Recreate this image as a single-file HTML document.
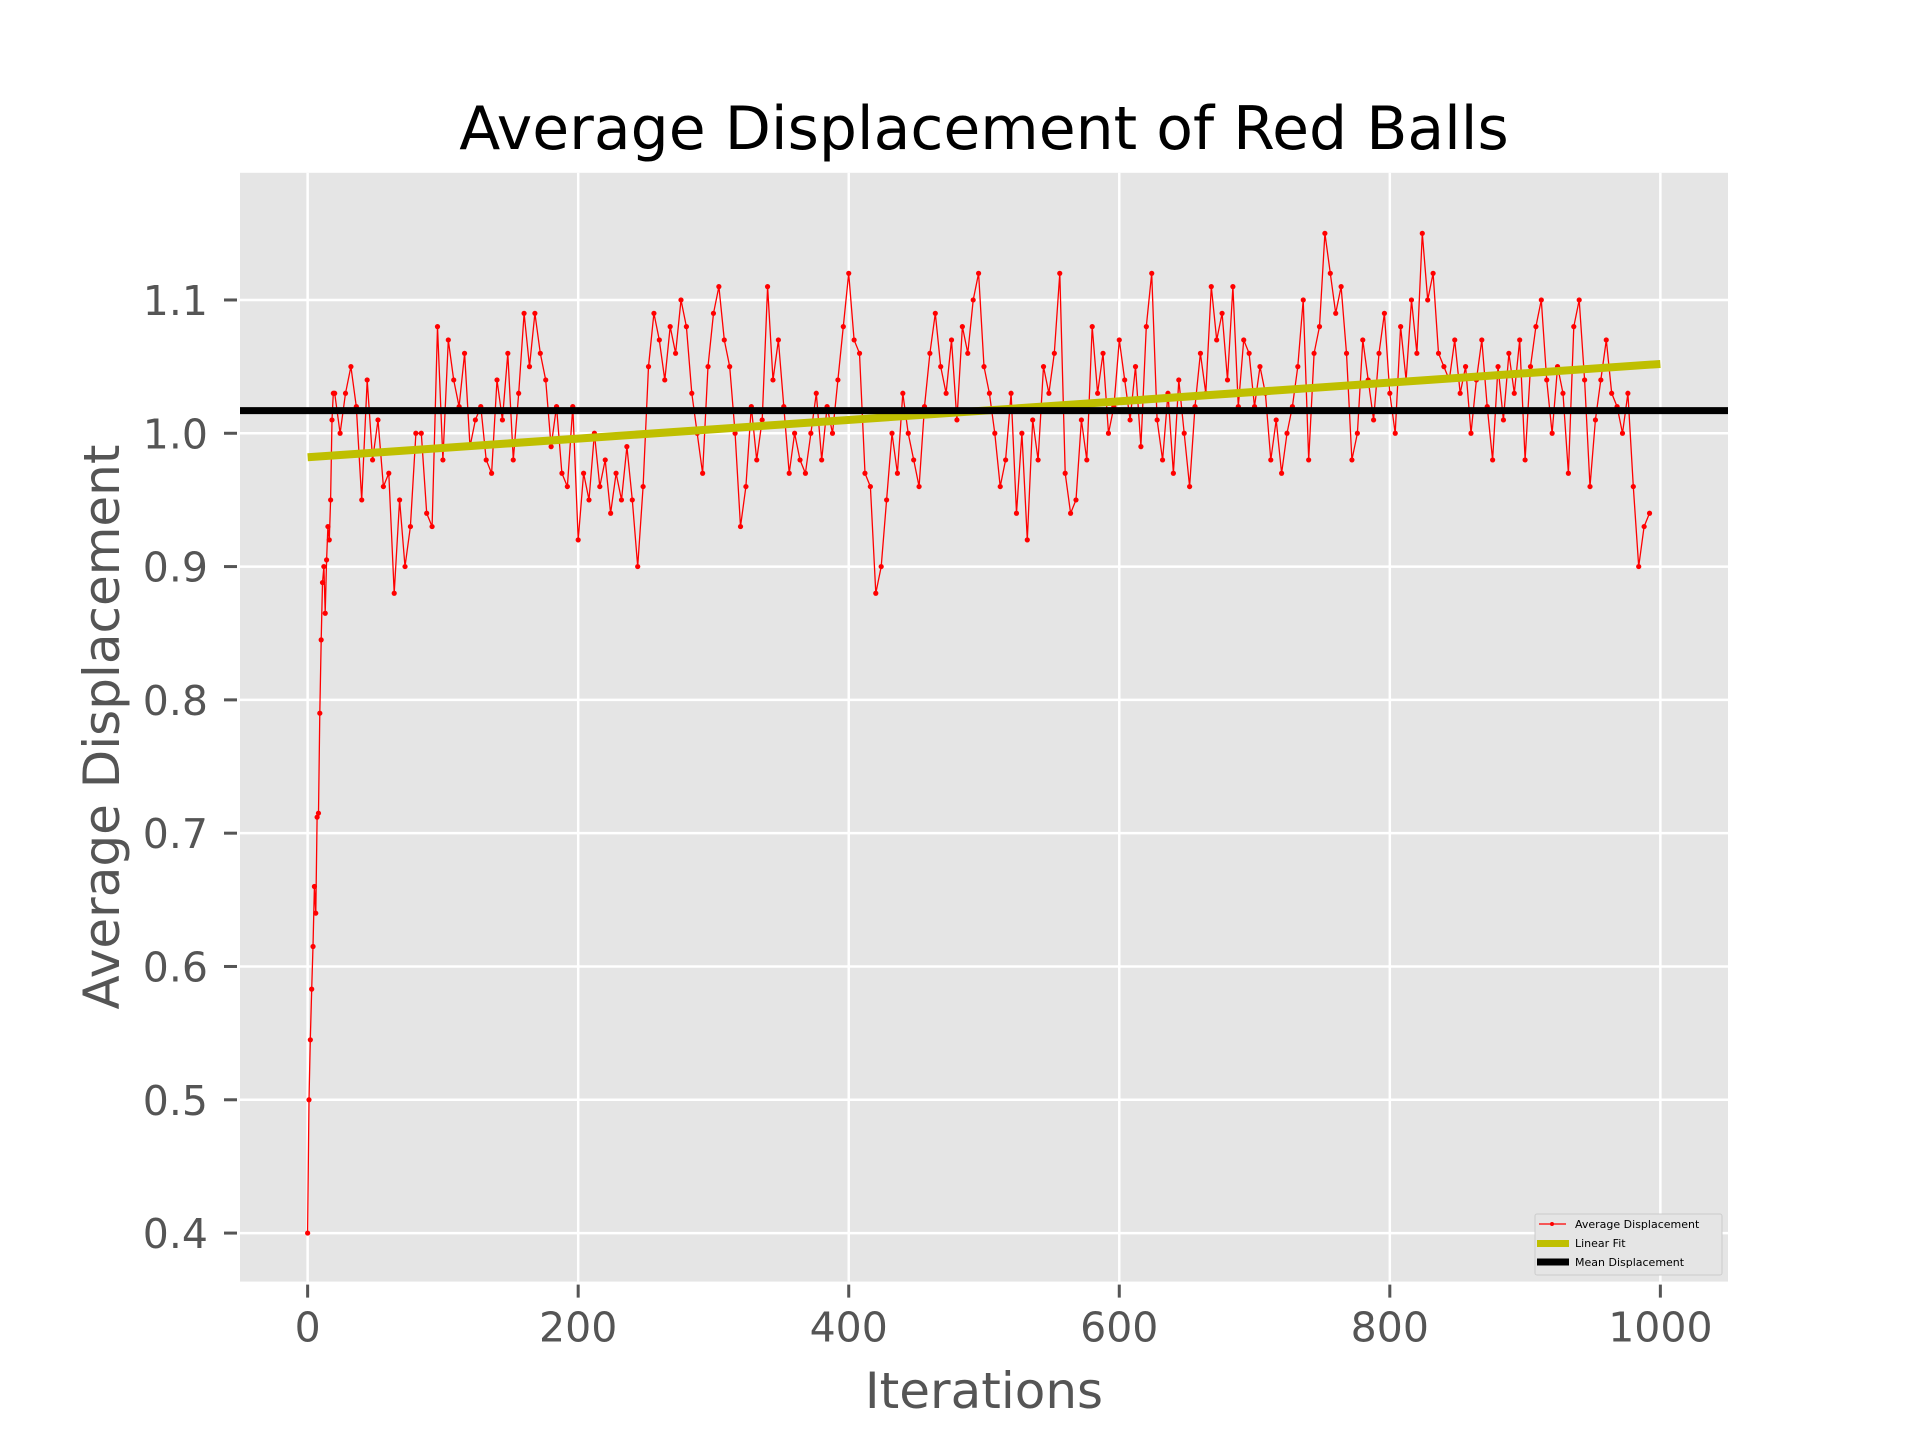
<!DOCTYPE html>
<html><head><meta charset="utf-8"><style>
html,body{margin:0;padding:0;background:#fff;}
svg{display:block;font-family:"DejaVu Sans","Liberation Sans",sans-serif;}
</style></head><body>
<svg id="chart" width="1920" height="1440" viewBox="0 0 1920 1440" xmlns="http://www.w3.org/2000/svg">
<rect x="240" y="172.8" width="1488" height="1108.8" fill="#E5E5E5"/>
<g id="grid"></g>
<g id="ticks"></g>
<g id="series"></g>
<text x="984" y="149" text-anchor="middle" font-size="60" fill="#000">Average Displacement of Red Balls</text>
<text x="984" y="1408" text-anchor="middle" font-size="50" fill="#555">Iterations</text>
<text transform="translate(119,727) rotate(-90)" text-anchor="middle" font-size="50" fill="#555">Average Displacement</text>
<g>
<rect x="1535" y="1214" width="187" height="61" rx="2" fill="#E5E5E5" stroke="#ccc" stroke-width="1"/>
<line x1="1539" y1="1224" x2="1566" y2="1224" stroke="red" stroke-width="1.2"/>
<circle cx="1552" cy="1224" r="2" fill="red"/>
<text x="1575" y="1228" font-size="11" fill="#000">Average Displacement</text>
<line x1="1537" y1="1243.5" x2="1569" y2="1243.5" stroke="#BFBF00" stroke-width="7"/>
<text x="1575" y="1247" font-size="11" fill="#000">Linear Fit</text>
<line x1="1537" y1="1262" x2="1569" y2="1262" stroke="#000" stroke-width="7"/>
<text x="1575" y="1266" font-size="11" fill="#000">Mean Displacement</text>
</g>
</svg>
<script>
const rampValues=[0.40,0.50,0.545,0.583,0.615,0.66,0.64,0.712,0.715,0.79,0.845,0.888,0.90,0.865,0.905,0.93,0.92,0.95,1.01,1.03];
const sampledValues=[
1.03,1.00,1.03,1.05,1.02,0.95,1.04,0.98,1.01,0.96,
0.97,0.88,0.95,0.90,0.93,1.00,1.00,0.94,0.93,1.08,
0.98,1.07,1.04,1.02,1.06,0.99,1.01,1.02,0.98,0.97,
1.04,1.01,1.06,0.98,1.03,1.09,1.05,1.09,1.06,1.04,
0.99,1.02,0.97,0.96,1.02,0.92,0.97,0.95,1.00,0.96,
0.98,0.94,0.97,0.95,0.99,0.95,0.90,0.96,1.05,1.09,
1.07,1.04,1.08,1.06,1.10,1.08,1.03,1.00,0.97,1.05,
1.09,1.11,1.07,1.05,1.00,0.93,0.96,1.02,0.98,1.01,
1.11,1.04,1.07,1.02,0.97,1.00,0.98,0.97,1.00,1.03,
0.98,1.02,1.00,1.04,1.08,1.12,1.07,1.06,0.97,0.96,
0.88,0.90,0.95,1.00,0.97,1.03,1.00,0.98,0.96,1.02,
1.06,1.09,1.05,1.03,1.07,1.01,1.08,1.06,1.10,1.12,
1.05,1.03,1.00,0.96,0.98,1.03,0.94,1.00,0.92,1.01,
0.98,1.05,1.03,1.06,1.12,0.97,0.94,0.95,1.01,0.98,
1.08,1.03,1.06,1.00,1.02,1.07,1.04,1.01,1.05,0.99,
1.08,1.12,1.01,0.98,1.03,0.97,1.04,1.00,0.96,1.02,
1.06,1.03,1.11,1.07,1.09,1.04,1.11,1.02,1.07,1.06,
1.02,1.05,1.03,0.98,1.01,0.97,1.00,1.02,1.05,1.10,
0.98,1.06,1.08,1.15,1.12,1.09,1.11,1.06,0.98,1.00,
1.07,1.04,1.01,1.06,1.09,1.03,1.00,1.08,1.04,1.10,
1.06,1.15,1.10,1.12,1.06,1.05,1.04,1.07,1.03,1.05,
1.00,1.04,1.07,1.02,0.98,1.05,1.01,1.06,1.03,1.07,
0.98,1.05,1.08,1.10,1.04,1.00,1.05,1.03,0.97,1.08,
1.10,1.04,0.96,1.01,1.04,1.07,1.03,1.02,1.00,1.03,
0.96,0.90,0.93,0.94];
const sampleStart=20, sampleStep=4;
const fitEnds=[0.982,1.052];
const meanValue=1.017;
const xTicks=[0,200,400,600,800,1000];
const yTicks=[0.4,0.5,0.6,0.7,0.8,0.9,1.0,1.1];
const yTickLabels=["0.4","0.5","0.6","0.7","0.8","0.9","1.0","1.1"];

const L=240,R=1728,T=172.8,B=1281.6;
const xMin=-50,xMax=1050,yMin=0.3636,yMax=1.1954;
const X=v=>L+(v-xMin)/(xMax-xMin)*(R-L);
const Y=v=>B-(v-yMin)/(yMax-yMin)*(B-T);
const NS="http://www.w3.org/2000/svg";
function mk(tag,attrs,parent){const e=document.createElementNS(NS,tag);for(const k in attrs)e.setAttribute(k,attrs[k]);parent.appendChild(e);return e;}
const grid=document.getElementById('grid'),ticks=document.getElementById('ticks'),series=document.getElementById('series');
xTicks.forEach(t=>{
  const g=mk('line',{x1:X(t),x2:X(t),y1:T,y2:B,stroke:'#fff','stroke-width':2.5},grid);
  
  
  mk('line',{x1:X(t),x2:X(t),y1:B+3,y2:B+16,stroke:'#555','stroke-width':3},ticks);
  const tx=mk('text',{x:X(t),y:B+60,'text-anchor':'middle','font-size':41,fill:'#555'},ticks);
  tx.textContent=t;
  
  
});
yTicks.forEach((t,i)=>{
  const g=mk('line',{x1:L,x2:R,y1:Y(t),y2:Y(t),stroke:'#fff','stroke-width':2.5},grid);
  
  
  mk('line',{x1:L-16,x2:L-3,y1:Y(t),y2:Y(t),stroke:'#555','stroke-width':3},ticks);
  const tx=mk('text',{x:L-32,y:Y(t)+15,'text-anchor':'end','font-size':41,fill:'#555'},ticks);
  tx.textContent=yTickLabels[i];
  
  
});
const pts=[];
rampValues.forEach((v,i)=>pts.push([i,v]));
sampledValues.forEach((v,i)=>pts.push([sampleStart+i*sampleStep,v]));
const line=mk('polyline',{points:pts.map(p=>X(p[0]).toFixed(1)+','+Y(p[1]).toFixed(1)).join(' '),fill:'none',stroke:'red','stroke-width':1.3},series);


pts.forEach(p=>{
  const c=mk('circle',{cx:X(p[0]),cy:Y(p[1]),r:2.6,fill:'red'},series);
  
  
});
const fit=mk('line',{x1:X(0),x2:X(1000),y1:Y(fitEnds[0]),y2:Y(fitEnds[1]),stroke:'#BFBF00','stroke-width':8},series);


const mean=mk('line',{x1:L,x2:R,y1:Y(meanValue),y2:Y(meanValue),stroke:'#000','stroke-width':7},series);


</script>
</body></html>
